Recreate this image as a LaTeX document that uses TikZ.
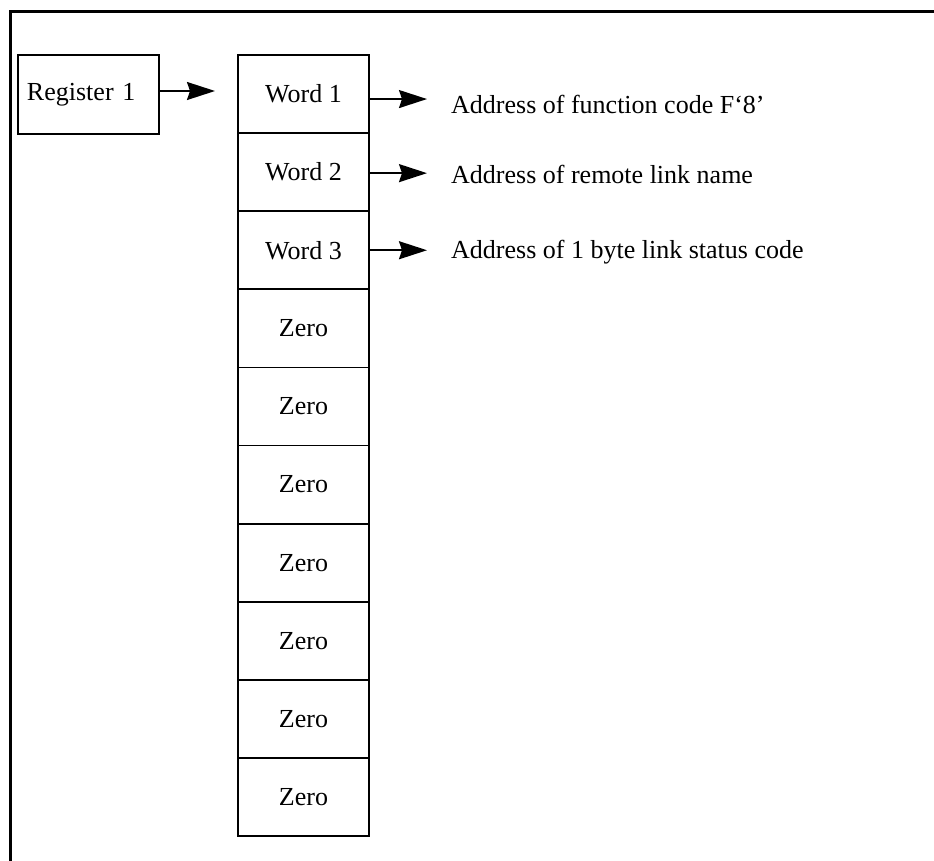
\documentclass[tikz,border=0pt]{standalone}
\usepackage{fontspec}
\setmainfont{Liberation Serif}
\usetikzlibrary{arrows.meta}
\begin{document}
\begin{tikzpicture}[x=1pt,y=-1pt,
  cell/.style={draw,line width=1.8pt,minimum width=131pt,minimum height=78.1pt,inner sep=0pt,font=\fontsize{26}{30}\selectfont},
  regbox/.style={draw,line width=1.8pt,text width=123pt,align=left,inner xsep=9pt,inner ysep=0pt,minimum height=79pt,font=\fontsize{26}{30}\selectfont},
  lbl/.style={anchor=west,inner sep=0pt,font=\fontsize{26}{30}\selectfont},
  arr/.style={line width=1.8pt,-{Stealth[length=28pt,width=18pt,inset=3pt]}},
  frame/.style={line width=3pt}]
\useasboundingbox (0,0) rectangle (934,861);
\draw[frame] (10,861) -- (10,11.5) -- (934,11.5);
\node[regbox] (reg) at (88.5,94.5) {Register 1};
\coordinate (regtip) at (215,91);
\draw[arr] ([yshift=3.5pt]reg.east) -- (regtip);
\node[cell] (w1) at (303.5,94.05) {Word 1};
\node[cell] (w2) at (303.5,172.15) {Word 2};
\node[cell] (w3) at (303.5,250.25) {Word 3};
\node[cell] (z1) at (303.5,328.35) {Zero};
\node[cell] (z2) at (303.5,406.45) {Zero};
\node[cell] (z3) at (303.5,484.55) {Zero};
\node[cell] (z4) at (303.5,562.65) {Zero};
\node[cell] (z5) at (303.5,640.75) {Zero};
\node[cell] (z6) at (303.5,718.85) {Zero};
\node[cell] (z7) at (303.5,796.95) {Zero};
\node[lbl] (a1) at (451,104) {Address of function code F‘8’};
\node[lbl] (a2) at (451,174) {Address of remote link name};
\node[lbl] (a3) at (451,252) {Address of 1 byte link status code};
\draw[arr,shorten >=24pt] ([yshift=-5pt]w1.east) -- ([yshift=-5pt]w1.east -| a1.west);
\draw[arr,shorten >=24pt] ([yshift=-1pt]w2.east) -- ([yshift=-1pt]w2.east -| a2.west);
\draw[arr,shorten >=24pt] (w3.east) -- (w3.east -| a3.west);
\end{tikzpicture}
\end{document}
